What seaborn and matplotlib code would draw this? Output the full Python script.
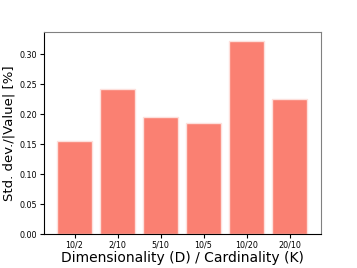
import matplotlib
matplotlib.use("Agg")
import matplotlib.pyplot as plt
import seaborn as sns
import pandas as pd

# D/K combinations and relative std. dev. values
labels = ["10/2", "2/10", "5/10", "10/5", "10/20", "20/10"]
values = [0.156, 0.243, 0.196, 0.185, 0.322, 0.226]

df = pd.DataFrame({"combo": labels, "value": values})

fig = plt.figure(figsize=(3.57, 2.68), dpi=100)
ax = fig.add_axes([44 / 357, 34 / 268, 277 / 357, 202 / 268])

sns.barplot(data=df, x="combo", y="value", color="salmon", saturation=1,
            edgecolor="#fde0dc", linewidth=1, width=0.8, ax=ax)

ax.set_xlim(-0.71, 5.73)
ax.set_ylim(0, 0.3375)
ax.set_yticks([0, 0.05, 0.10, 0.15, 0.20, 0.25, 0.30])
ax.set_yticklabels(["%.2f" % t for t in ax.get_yticks()])
ax.tick_params(labelsize=5.8, length=3, pad=2)
ax.set_xlabel("Dimensionality (D) / Cardinality (K)", fontsize=10, labelpad=1)
ax.set_ylabel("Std. dev./|Value| [%]", fontsize=9.5, labelpad=3)
for s in ["top", "right"]:
    ax.spines[s].set_color("grey")

fig.savefig("out.png", dpi=100)
